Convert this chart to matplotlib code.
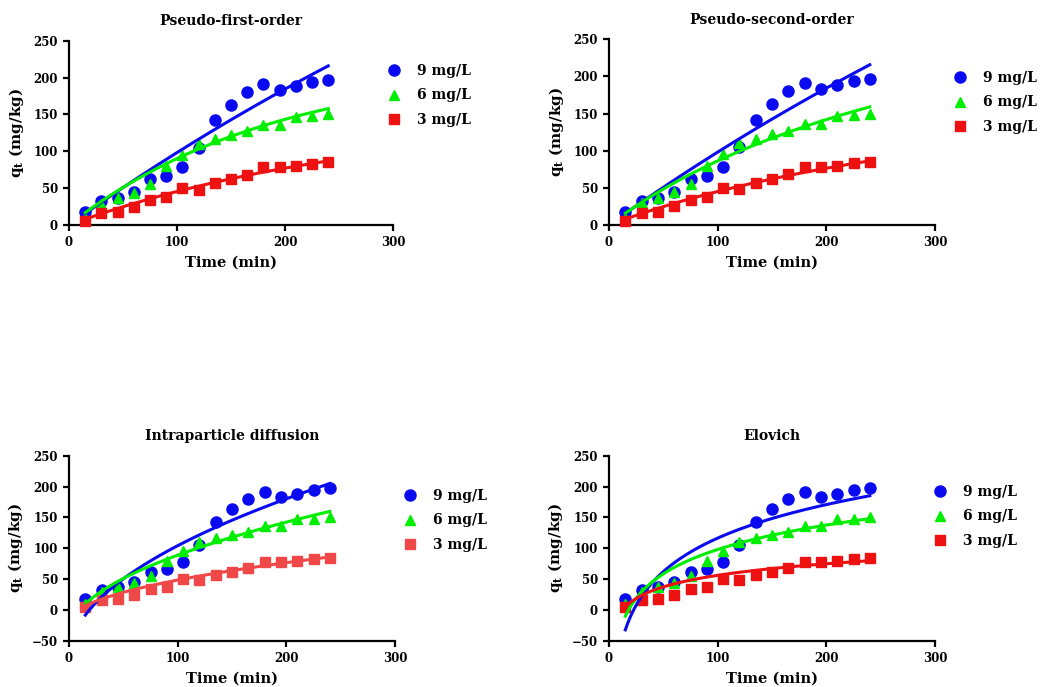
import numpy as np
import matplotlib
matplotlib.use("Agg")
import matplotlib.pyplot as plt

plt.rcParams['font.family'] = ['DejaVu Serif']
plt.rcParams['font.weight'] = 'bold'
plt.rcParams['mathtext.fontset'] = 'custom'
plt.rcParams['mathtext.rm'] = 'DejaVu Serif:bold'
plt.rcParams['mathtext.it'] = 'DejaVu Serif:bold'
plt.rcParams['mathtext.bf'] = 'DejaVu Serif:bold'

# measured data
time = [15, 30, 45, 60, 75, 90, 105, 120, 135, 150, 165, 180, 195, 210, 225, 240]
q_9 = [18, 32, 37, 45, 62, 66, 78, 105, 142, 163, 180, 191, 183, 188, 194, 197]
q_6 = [10, 29, 37, 44, 55, 80, 95, 110, 116, 122, 127, 136, 136, 147, 148, 150]
q_3 = [5, 16, 18, 25, 34, 38, 50, 48, 57, 62, 68, 78, 78, 80, 83, 85]
labels = ["9 mg/L", "6 mg/L", "3 mg/L"]

# fitted parameters (9, 6, 3 mg/L)
pfo_qe = [800, 220, 150]
pfo_k1 = [0.00131, 0.00527, 0.00361]
pso_qe = [1500, 400, 250]
pso_h = [1.05, 1.1, 0.55]
ipd_kid = [18.33, 12.9, 6.8]
ipd_c = [-79, -40, -19.3]
elo_b = [78.3, 57.0, 27.0]
elo_a = [-244, -164.3, -68]

colors = ["#0a0af0", "#00ee00", "#ee1111"]
markers = ["o", "^", "s"]


def pfo(t, qe, k):
    return qe * (1 - np.exp(-k * t))

def pso(t, qe, h):
    return h * t / (1 + h * t / qe)

def ipd(t, k, c):
    return k * np.sqrt(t) + c

def elovich(t, b, a):
    return a + b * np.log(t)


fig = plt.figure(figsize=(10.51, 6.87), dpi=100)
W, H = 1051, 687

panels = [
    ("Pseudo-first-order", (69, 40.7, 393, 225), (0, 250), pfo, pfo_qe, pfo_k1, (386, 64), colors[2]),
    ("Pseudo-second-order", (609, 39.3, 935, 225), (0, 250), pso, pso_qe, pso_h, (952, 71), colors[2]),
    ("Intraparticle diffusion", (69, 455.7, 395, 641), (-50, 250), ipd, ipd_kid, ipd_c, (402, 489), "#f04848"),
    ("Elovich", (609, 455.7, 935, 641), (-50, 250), elovich, elo_b, elo_a, (932, 485), colors[2]),
]

t_fit = np.linspace(15, 240, 200)
series = [q_9, q_6, q_3]

for title, (x0, y0, x1, y1), ylim, model, p1, p2, leg_pos, red in panels:
    ax = fig.add_axes([x0 / W, 1 - y1 / H, (x1 - x0) / W, (y1 - y0) / H])
    cols = [colors[0], colors[1], red]
    for i in range(3):
        ax.plot(time, series[i], linestyle="none", marker=markers[i], color=cols[i],
                markersize=8 if i == 0 else 7.5, label=labels[i], clip_on=False, zorder=3)
    for i in range(3):
        ax.plot(t_fit, model(t_fit, p1[i], p2[i]), color=cols[i], lw=2.2, zorder=4)
    ax.set_xlim(0, 300)
    ax.set_ylim(*ylim)
    ax.set_xticks([0, 100, 200, 300])
    ax.set_yticks(np.arange(ylim[0], 251, 50))
    for s in ["top", "right"]:
        ax.spines[s].set_visible(False)
    for s in ["left", "bottom"]:
        ax.spines[s].set_linewidth(1.6)
    ax.tick_params(width=1.6, length=4, labelsize=8.5, pad=4)
    for lab in ax.get_xticklabels() + ax.get_yticklabels():
        lab.set_fontweight("bold")
    ax.set_title(title, fontsize=10, fontweight="bold", pad=11)
    ax.set_xlabel("Time (min)", fontsize=10.5, fontweight="bold", labelpad=5)
    ax.set_ylabel(r"q$_t$ (mg/kg)", fontsize=11, fontweight="bold", labelpad=5)
    ax.legend(loc="upper left", bbox_to_anchor=(leg_pos[0] / W, 1 - leg_pos[1] / H),
              bbox_transform=fig.transFigure, frameon=False, handlelength=1.2,
              handletextpad=1.0, labelspacing=0.75, borderpad=0, borderaxespad=0,
              prop={"size": 10, "weight": "bold"})

plt.savefig("out.png", dpi=100)
